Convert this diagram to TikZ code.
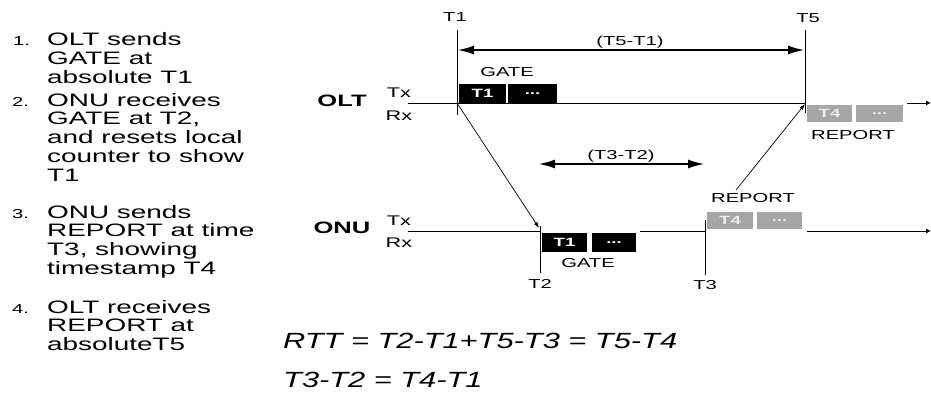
\documentclass[tikz,border=0pt]{standalone}
\usepackage{fontspec}
\setmainfont{Liberation Sans}
\newfontfamily\widesans[FakeStretch=1.55]{Liberation Sans}
\newfontfamily\eqfont[FakeStretch=1.4]{Liberation Sans}
\usetikzlibrary{arrows.meta}

\tikzset{
  listtxt/.style={anchor=base west, inner sep=0pt, font=\widesans\fontsize{18}{19}\selectfont},
  listnum/.style={anchor=base west, inner sep=0pt, font=\widesans\fontsize{13}{14}\selectfont},
  lbl/.style={inner sep=0pt, font=\widesans\fontsize{13}{14}\selectfont},
  txrx/.style={inner sep=0pt, font=\widesans\fontsize{14}{15}\selectfont},
  endname/.style={inner sep=0pt, font=\widesans\fontsize{16.5}{17}\selectfont\bfseries},
  blk/.style={fill=black, minimum height=19pt, inner sep=0pt, text=white,
    font=\widesans\fontsize{12}{12}\selectfont\bfseries},
  rep/.style={fill=gray!70, minimum height=17pt, inner sep=0pt, text=white!85!gray,
    font=\widesans\fontsize{12}{12}\selectfont\bfseries},
  timeline/.style={line width=1pt},
  marker/.style={line width=0.8pt},
  spanarrow/.style={line width=2.4pt,
    {Latex[length=17pt,width=9pt]}-{Latex[length=17pt,width=9pt]}},
  msg/.style={line width=0.7pt, -{Latex[length=6pt,width=4pt]}},
  tailtip/.style={timeline, -{Latex[length=5pt,width=5pt]}},
  eq/.style={anchor=base west, inner sep=0pt, font=\eqfont\itshape\fontsize{22}{23}\selectfont}
}

\begin{document}
\begin{tikzpicture}[x=1pt,y=-1pt]
\useasboundingbox (0,0) rectangle (931,392);

% ---- numbered steps on the left ----
\node[listnum] (n1) at (13,45.5) {1.};
\foreach \t [count=\i from 0] in {OLT sends, GATE at, absolute T1}
  \node[listtxt] (s1-\i) at (47,{45.5+18.75*\i}) {\t};
\node[listnum] (n2) at (12,106) {2.};
\foreach \t [count=\i from 0] in {ONU receives, {GATE at T2,}, and resets local, counter to show, T1}
  \node[listtxt] (s2-\i) at (47,{106+18.75*\i}) {\t};
\node[listnum] (n3) at (12,218) {3.};
\foreach \t [count=\i from 0] in {ONU sends, REPORT at time, {T3, showing}, timestamp T4}
  \node[listtxt] (s3-\i) at (47,{218+18.75*\i}) {\t};
\node[listnum] (n4) at (12,313) {4.};
\foreach \t [count=\i from 0] in {OLT receives, REPORT at, absoluteT5}
  \node[listtxt] (s4-\i) at (47,{313+18.75*\i}) {\t};

% ---- OLT time line ----
\node[endname] (olt) at (342,101) {OLT};
\node[txrx] (olttx) at (399,93) {Tx};
\node[txrx] (oltrx) at (399,116) {Rx};
\coordinate (oltL) at (408,103);
\coordinate (oltT1) at (457,103);
\coordinate (oltT5) at (805,103);
\coordinate (oltR) at (907,103);
\coordinate (oltEnd) at (931,103);
\draw[timeline] (oltL) -- (oltT5);
\draw[tailtip] (oltR) -- (oltEnd);

% ---- ONU time line ----
\node[endname] (onu) at (342,228) {ONU};
\node[txrx] (onutx) at (399,221) {Tx};
\node[txrx] (onurx) at (399,243) {Rx};
\coordinate (onuL) at (408,231);
\coordinate (onuT2) at (540,231);
\coordinate (onuA) at (640,231);
\coordinate (onuT3) at (705,231);
\coordinate (onuB) at (807,231);
\coordinate (onuEnd) at (931,231);
\draw[timeline] (onuL) -- (onuT2);
\draw[timeline] (onuA) -- (onuT3);
\draw[tailtip] (onuB) -- (onuEnd);

% ---- time markers ----
\coordinate (t1top) at (457,30);  \coordinate (t1bot) at (457,115);
\coordinate (t5top) at (805,30);  \coordinate (t5bot) at (805,113);
\coordinate (t2top) at (540,226); \coordinate (t2bot) at (540,273);
\coordinate (t3top) at (705,220); \coordinate (t3bot) at (705,275);
\draw[marker] (t1top) -- (t1bot);
\draw[marker] (t5top) -- (t5bot);
\draw[marker] (t2top) -- (t2bot);
\draw[marker] (t3top) -- (t3bot);
\node[lbl] (lt1) at (455,17) {T1};
\node[lbl] (lt5) at (808,18) {T5};
\node[lbl] (lt2) at (540,284) {T2};
\node[lbl] (lt3) at (705,285) {T3};

% ---- interval arrows ----
\coordinate (s51a) at (457,50); \coordinate (s51b) at (805,50);
\draw[spanarrow] (s51a) -- (s51b);
\node[lbl] (l51) at (630,42) {(T5-T1)};
\coordinate (s32a) at (538,164); \coordinate (s32b) at (705,164);
\draw[spanarrow] (s32a) -- (s32b);
\node[lbl] (l32) at (621,156) {(T3-T2)};

% ---- GATE frame ----
\node[blk, minimum width=47pt] (g1) at (482.5,93.5) {T1};
\node[blk, minimum width=49pt] (g2) at (532.5,93.5) {...};
\node[lbl] (lgate1) at (507,72) {GATE};
\node[blk, minimum width=45pt] (g3) at (564.5,242.5) {T1};
\node[blk, minimum width=44pt] (g4) at (614,242.5) {...};
\node[lbl] (lgate2) at (588,263) {GATE};
\coordinate (gateIn) at (539,228);
\draw[msg] (oltT1) -- (gateIn);

% ---- REPORT frame ----
\node[rep, minimum width=46pt] (r1) at (730,220.5) {T4};
\node[rep, minimum width=45pt] (r2) at (779.5,220.5) {...};
\node[lbl] (lrep1) at (753,198) {REPORT};
\node[rep, minimum width=45pt] (r3) at (829.5,113.5) {T4};
\node[rep, minimum width=47pt] (r4) at (879.5,113.5) {...};
\node[lbl] (lrep2) at (853,135) {REPORT};
\coordinate (repOut) at (736,190);
\coordinate (repIn) at (805,104);
\draw[msg] (repOut) -- (repIn);

% ---- equations ----
\node[eq] (eq1) at (283,348) {RTT = T2-T1+T5-T3 = T5-T4};
\node[eq] (eq2) at (283,387) {T3-T2 = T4-T1};
\end{tikzpicture}
\end{document}
